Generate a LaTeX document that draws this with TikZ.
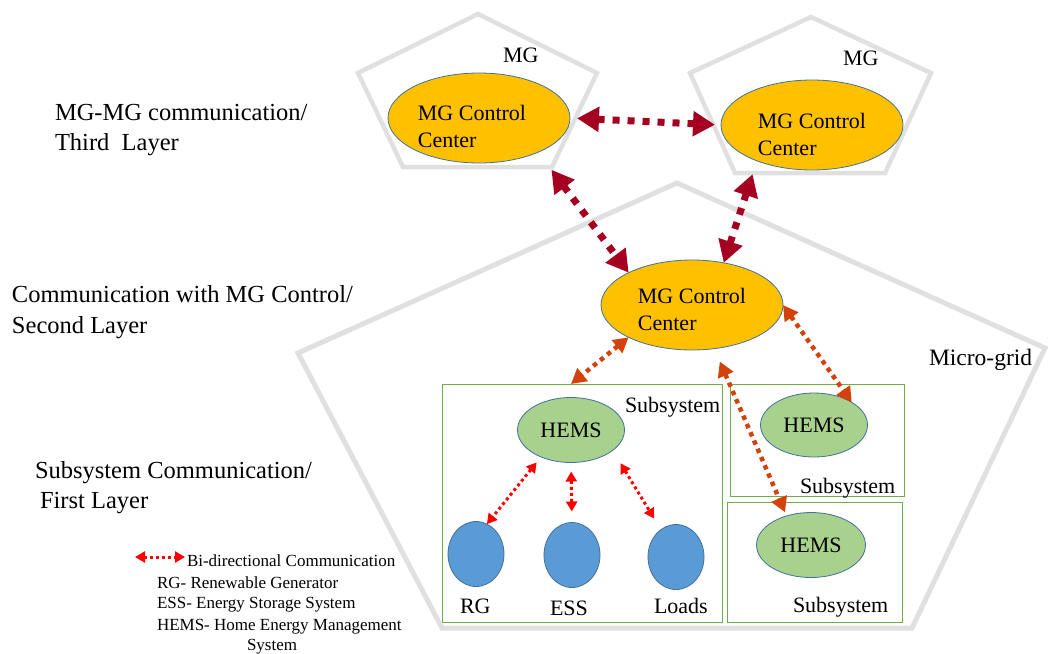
\documentclass[tikz,border=0pt]{standalone}
\usepackage{fontspec}
\setmainfont{Liberation Serif}
\usetikzlibrary{shapes.geometric,arrows.meta}
\definecolor{mggold}{HTML}{FFC000}
\definecolor{edgeblue}{HTML}{41719C}
\definecolor{hemsgreen}{HTML}{A9D18E}
\definecolor{devblue}{HTML}{5B9BD5}
\definecolor{boxgreen}{HTML}{70AD47}
\definecolor{pentgray}{HTML}{E0E0E0}
\definecolor{darkred}{HTML}{A50021}
\definecolor{orangered}{HTML}{D4420C}
\definecolor{brightred}{HTML}{FF0000}
\begin{document}
\begin{tikzpicture}[x=1pt,y=-1pt,
  every node/.style={inner sep=0pt, outer sep=0pt},
  cc/.style={ellipse, draw=edgeblue, line width=0.8pt, fill=mggold, minimum width=182pt, minimum height=90pt},
  cctxt/.style={align=left, font=\fontsize{22}{27}\selectfont},
  hems/.style={ellipse, draw=edgeblue, line width=0.8pt, fill=hemsgreen, minimum width=107pt, minimum height=65pt, font=\fontsize{22}{27}\selectfont},
  dev/.style={ellipse, draw=edgeblue, line width=0.8pt, fill=devblue, minimum width=56pt, minimum height=65pt},
  subbox/.style={draw=boxgreen, line width=1pt},
  pent/.style={draw=pentgray, line width=5pt, line join=miter},
  lbl/.style={anchor=base west, font=\fontsize{22}{27}\selectfont},
  layer/.style={anchor=base west, font=\fontsize{24.5}{31}\selectfont},
  legendtxt/.style={anchor=base west, font=\fontsize{17}{21}\selectfont},
  link3/.style={draw=darkred, line width=7pt, dash pattern=on 7pt off 8pt,
    {Triangle[length=22pt,width=24pt]}-{Triangle[length=22pt,width=24pt]}},
  link2/.style={draw=orangered, line width=4.5pt, dash pattern=on 4.5pt off 4.5pt,
    {Triangle[length=15pt,width=16pt]}-{Triangle[length=15pt,width=16pt]}},
  link1/.style={draw=brightred, line width=3pt, dash pattern=on 3pt off 3pt,
    {Triangle[length=10pt,width=11pt]}-{Triangle[length=10pt,width=11pt]}}
]
\useasboundingbox (0,0) rectangle (1048,653);

% pentagons
\draw[pent] (677,183) -- (1045,348) -- (912,628) -- (442,628) -- (298,353) -- cycle;
\draw[pent, line width=4.5pt] (478,14) -- (597,73) -- (552,167) -- (403,167) -- (358,73) -- cycle;
\draw[pent, line width=4.5pt] (811,17) -- (931,73) -- (885,173) -- (735,173) -- (690,73) -- cycle;

% control centres
\node[cc, label={[cctxt, name=ccLt, xshift=-7pt, yshift=-8pt]center:MG Control\\Center}] (ccL) at (479,118) {};
\node[cc, label={[cctxt, name=ccRt, yshift=-9pt]center:MG Control\\Center}] (ccR) at (812,125) {};
\node[cc, label={[cctxt, name=ccMt, yshift=-4pt]center:MG Control\\Center}] (ccM) at (692,305) {};

% subsystem boxes
\node[subbox, minimum width=280pt, minimum height=238pt] (subL) at (582,503) {};
\node[subbox, minimum width=174pt, minimum height=112pt] (subR1) at (817,440) {};
\node[subbox, minimum width=175pt, minimum height=120pt] (subR2) at (814.5,562) {};

% HEMS and devices
\node[hems] (hemsL) at (571,430) {HEMS};
\node[hems, minimum height=64pt] (hemsR1) at (814,425) {HEMS};
\node[hems, minimum width=109pt] (hemsR2) at (811,545) {HEMS};
\node[dev] (rg) at (476,554) {};
\node[dev] (ess) at (572,555) {};
\node[dev] (loads) at (676,557) {};

% labels
\node[lbl] (mgL) at (503,62) {MG};
\node[lbl] (mgR) at (843,65) {MG};
\node[lbl, font=\fontsize{23.5}{28}\selectfont] (mgrid) at (929,365) {Micro-grid};
\node[lbl] (sL) at (625,412) {Subsystem};
\node[lbl] (sR1) at (800,493) {Subsystem};
\node[lbl] (sR2) at (793,612) {Subsystem};
\node[lbl] (lrg) at (460,613) {RG};
\node[lbl] (less) at (550,615) {ESS};
\node[lbl] (lloads) at (654,613) {Loads};

% layer labels
\node[layer] (l3a) at (55,120) {MG-MG communication/};
\node[layer] (l3b) at (55,150) {Third\ \ Layer};
\node[layer] (l2a) at (12,302) {Communication with MG Control/};
\node[layer] (l2b) at (12,333) {Second Layer};
\node[layer] (l1a) at (35,478) {Subsystem Communication/};
\node[layer] (l1b) at (40,508) {First Layer};

% third layer links
\draw[link3, shorten <=7pt, shorten >=6pt] (ccL.0) -- (ccR.180);
\draw[link3, shorten <=22pt] (ccL.-30) -- (ccM.153);
\draw[link3, shorten <=14pt] (ccR.-147) -- (ccM.53);

% second layer links
\draw[link2] (ccM.-153) -- (hemsL |- subL.north);
\draw[link2] (ccM.east) -- (hemsR1.31);
\draw[link2, shorten <=14pt, shorten >=4pt] (ccM.-63) -- (hemsR2.130);

% first layer links
\draw[link1, shorten <=7pt] (hemsL.-138) -- (rg.70);
\draw[link1, shorten <=9pt, shorten >=11pt] (hemsL.south) -- (ess.north);
\draw[link1, shorten <=15pt, shorten >=13pt] (hemsL.-26) -- (loads.119);

% legend
\coordinate (lgA) at (135,557);
\coordinate (lgB) at (185,557);
\draw[link1] (lgA) -- (lgB);
\node[legendtxt] (lg1) at (187,566) {Bi-directional Communication};
\node[legendtxt] (lg2) at (157,588) {RG- Renewable Generator};
\node[legendtxt] (lg3) at (157,608) {ESS- Energy Storage System};
\node[legendtxt] (lg4) at (157,630) {HEMS- Home Energy Management};
\node[legendtxt] (lg5) at (247,650) {System};
\end{tikzpicture}
\end{document}
